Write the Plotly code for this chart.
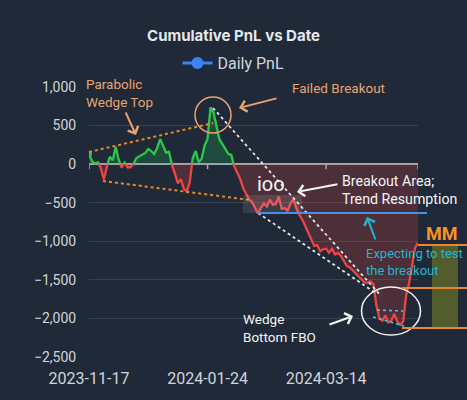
import plotly.graph_objects as go

# ---------------- data ----------------
tick_index = [0, 40, 80]
tick_labels = ["2023-11-17", "2024-01-24", "2024-03-14"]

cum_pnl = [130, 40, 5, 25, -50, -200, -30, 95, 50, 225,
           60, -45, 20, -40, -40, 5, 80, 105, 125, 145,
           195, 170, 130, 210, 325, 235, 150, 160, -10, -125,
           -250, -195, -320, -355, -230, 80, 170, 25, 70, 240,
           330, 735, 670, 500, 320, 260, 190, 135, 120, -30,
           -110, -190, -310, -380, -455, -490, -560, -640, -565, -510,
           -550, -460, -525, -520, -420, -580, -570, -605, -510, -455,
           -575, -660, -720, -810, -900, -985, -1060, -1050, -1130, -1100,
           -1095, -1150, -1095, -1170, -1150, -1190, -1260, -1320, -1340, -1380,
           -1420, -1460, -1500, -1535, -1535, -1520, -1560, -1840, -2000, -2030,
           -1960, -2050, -2030, -1940, -2040, -2085, -2040, -1700, -1540, -1330,
           -1085, -1020]
idx = list(range(len(cum_pnl)))

# ---------------- split by sign (insert zero crossings) ----------------
xe, ye = [], []
for i in range(len(cum_pnl)):
    if i > 0:
        a, b = cum_pnl[i - 1], cum_pnl[i]
        if (a > 0 and b < 0) or (a < 0 and b > 0):
            t = a / (a - b)
            xe.append(idx[i - 1] + t)
            ye.append(0)
    xe.append(idx[i])
    ye.append(cum_pnl[i])

pos_line = [v if v >= 0 else None for v in ye]
neg_line = [v if v <= 0 else None for v in ye]
pos_fill = [max(v, 0) for v in ye]
neg_fill = [min(v, 0) for v in ye]

GREEN = "#2bc84a"
RED = "#ef4444"
BG = "#1f2937"

fig = go.Figure()
fig.add_trace(go.Scatter(x=xe, y=pos_fill, mode="lines", line=dict(width=0),
                         fill="tozeroy", fillcolor="rgba(34,197,94,0.22)",
                         showlegend=False, hoverinfo="skip"))
fig.add_trace(go.Scatter(x=xe, y=neg_fill, mode="lines", line=dict(width=0),
                         fill="tozeroy", fillcolor="rgba(239,68,68,0.22)",
                         showlegend=False, hoverinfo="skip"))
fig.add_trace(go.Scatter(x=xe, y=pos_line, mode="lines", line=dict(color=GREEN, width=2.3),
                         connectgaps=False, showlegend=False))
fig.add_trace(go.Scatter(x=xe, y=neg_line, mode="lines", line=dict(color=RED, width=2.3),
                         connectgaps=False, showlegend=False))
fig.add_trace(go.Scatter(x=idx[:1], y=cum_pnl[:1], mode="markers",
                         marker=dict(color=GREEN, size=6), showlegend=False))
fig.add_trace(go.Scatter(x=[None], y=[None], mode="lines+markers", name="Daily PnL",
                         line=dict(color="#3b82f6", width=3),
                         marker=dict(color="#3b82f6", size=12)))

# ---------------- pixel helpers for annotations ----------------
L, R, T, B = 89, 418, 87, 357
def px(x):
    return (x - L) / (R - L)
def py(y):
    return (B - y) / (B - T)

SAND = "#e9a472"
ORANGE = "#e8892a"
WHITE = "#f3f4f6"
CYAN = "#25b6cc"

shapes = []
def seg(x0, y0, x1, y1, color, width=2, dash="solid"):
    shapes.append(dict(type="line", xref="paper", yref="paper",
                       x0=px(x0), y0=py(y0), x1=px(x1), y1=py(y1),
                       line=dict(color=color, width=width, dash=dash)))

def ellipse(cx, cy, rx, ry, color, width=1.5):
    shapes.append(dict(type="circle", xref="paper", yref="paper",
                       x0=px(cx - rx), x1=px(cx + rx), y0=py(cy + ry), y1=py(cy - ry),
                       line=dict(color=color, width=width)))

def rect(x0, y0, x1, y1, fill):
    shapes.append(dict(type="rect", xref="paper", yref="paper",
                       x0=px(x0), x1=px(x1), y0=py(y1), y1=py(y0),
                       line=dict(width=0), fillcolor=fill))

# zero-line tick marks
zero_p = (0 - (-2500)) / 3500
for t in tick_index + [idx[-1]]:
    shapes.append(dict(type="line", xref="x", yref="paper", x0=t, x1=t,
                       y0=zero_p, y1=zero_p - 5 / (B - T),
                       line=dict(color="#a1a5b4", width=1.5)))

# wedge lines
seg(89, 152, 213, 123, ORANGE, 2, "dot")
seg(103, 181, 250, 200, ORANGE, 2, "dot")
seg(213, 108, 381, 296, "#e5e7eb", 1.8, "dot")
seg(258, 213, 377, 294, "#e5e7eb", 1.8, "dot")
ellipse(213, 115, 18, 18, SAND, 1.5)
ellipse(391, 311, 29.5, 24, "#f3f4f6", 1.5)
rect(243, 195, 302, 213, "rgba(255,255,255,0.10)")
seg(257, 213, 427, 213, "#4a8fe0", 2)
seg(377, 310, 403, 311, "#4fc3d9", 1.6, "dot")
seg(373, 317, 404, 326, "#4fc3d9", 1.6, "dot")
rect(432, 246, 458, 327, "#535c2c")
seg(418, 245, 467, 245, ORANGE, 2)
seg(402, 288, 467, 288, ORANGE, 2)
seg(402, 328, 467, 328, ORANGE, 2)

annotations = []
def text(x, y, s, color, size=13, xanchor="left", bold=False):
    annotations.append(dict(xref="paper", yref="paper", x=px(x), y=py(y), text=s,
                            showarrow=False, xanchor=xanchor, yanchor="middle", align="left",
                            font=dict(color=color, size=size, family="Roboto",
                                      weight="bold" if bold else "normal")))

def arrow(tx, ty, hx, hy, color, width=2):
    annotations.append(dict(xref="paper", yref="paper", x=px(hx), y=py(hy), text="",
                            showarrow=True, ax=tx - hx, ay=ty - hy, arrowhead=4,
                            arrowsize=1.1, arrowwidth=width, arrowcolor=color))

text(84, 93, "Parabolic<br>Wedge Top", SAND, size=13.5)
arrow(125, 111, 136, 135, SAND)
text(290, 88, "Failed Breakout", SAND, size=13.5)
arrow(278, 98, 239, 108, SAND)
text(255, 184, "ioo", WHITE, size=20)
text(340, 190, "Breakout Area;<br>Trend Resumption", WHITE, size=14.2)
arrow(339, 184, 297, 192, WHITE)
arrow(376, 241, 367, 217, CYAN)
text(364, 262, "Expecting to test<br>the breakout", CYAN, size=13)
text(424, 233, "MM", "#f7931e", size=18, bold=True)
text(241, 328, "Wedge<br>Bottom FBO", WHITE, size=13.5)
arrow(328, 325, 353, 316, WHITE)

fig.update_layout(
    width=467, height=400,
    paper_bgcolor=BG, plot_bgcolor=BG,
    margin=dict(l=L, r=467 - R, t=T, b=400 - B, autoexpand=False),
    font=dict(family="Roboto", color="#d1d5db", size=14),
    title=dict(text="Cumulative PnL vs Date", x=0.5, xanchor="center", xref="container",
               y=1 - 36 / 400, yanchor="middle", yref="container",
               font=dict(family="Inter", size=15, color="#e5e7eb", weight="bold")),
    legend=dict(orientation="h", xref="container", x=0.5, xanchor="center",
                yref="container", y=1 - 63 / 400, yanchor="middle",
                font=dict(size=16, color="#d1d5db"), bgcolor="rgba(0,0,0,0)"),
    xaxis=dict(range=[0, idx[-1]], tickvals=tick_index, ticktext=tick_labels,
               showgrid=False, zeroline=False, showline=False,
               ticks="outside", ticklen=7, tickcolor="rgba(0,0,0,0)",
               tickfont=dict(size=16, color="#d1d5db")),
    yaxis=dict(range=[-2500, 1000], dtick=500, tickformat=",",
               showgrid=True, gridcolor="#374151", gridwidth=1,
               zeroline=True, zerolinecolor="#a1a5b4", zerolinewidth=1.5,
               showline=False, ticks="outside", ticklen=9, tickcolor="rgba(0,0,0,0)",
               tickfont=dict(size=14, color="#d1d5db")),
    shapes=shapes, annotations=annotations,
)

fig.write_html("out.html")
